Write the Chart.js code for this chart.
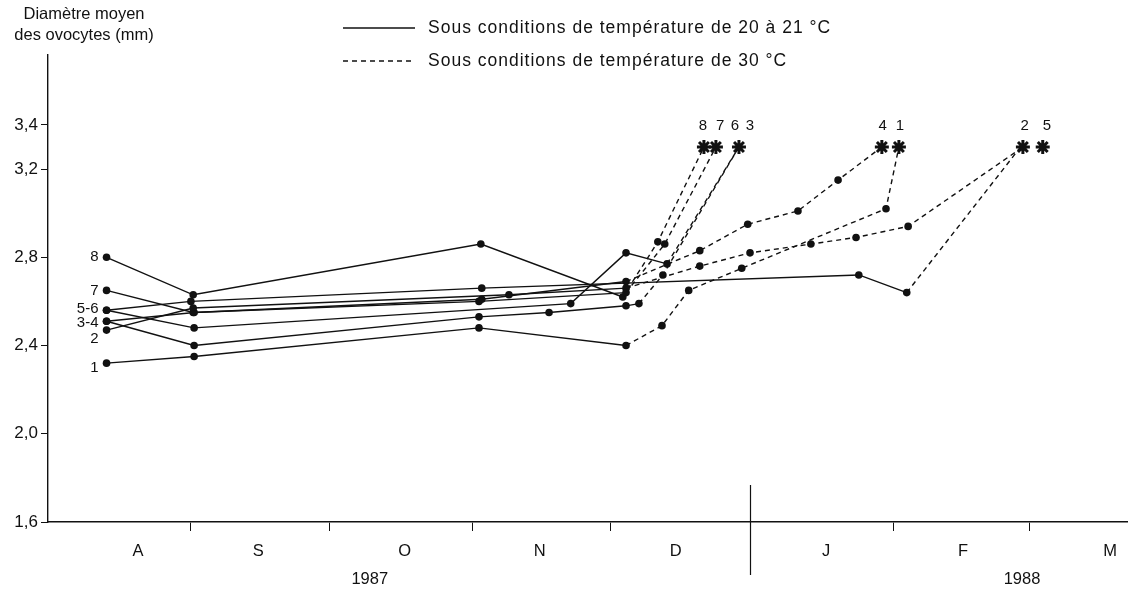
<!DOCTYPE html>
<html lang="fr">
<head>
<meta charset="utf-8">
<title>Diamètre moyen des ovocytes</title>
<script src="https://cdn.jsdelivr.net/npm/chart.js@4.4.1/dist/chart.umd.min.js"></script>
<style>
    html, body { margin: 0; padding: 0; background: #fff; }
    #wrap { width: 1128px; height: 591px; position: relative; }
</style>
</head>
<body>
<div id="wrap"><canvas id="chartOvocytes"></canvas></div>
<script>
// ── Données (jours depuis le 1er août 1987, diamètre en mm) ─────────
const jours1 = [12.7, 31.7, 93.5, 125.4, 133.2, 139.0, 150.5, 181.8, 184.6];
const diam1  = [2.32, 2.35, 2.48, 2.40, 2.49, 2.65, 2.75, 3.02, 3.30];
const jours2 = [12.7, 31.5, 100.0, 125.4, 141.4, 152.3, 165.5, 175.3, 186.6, 211.5];
const diam2  = [2.47, 2.57, 2.63, 2.66, 2.76, 2.82, 2.86, 2.89, 2.94, 3.30];
const jours3 = [12.7, 31.7, 93.5, 108.7, 125.4, 128.2, 133.4, 149.9];
const diam3  = [2.51, 2.40, 2.53, 2.55, 2.58, 2.59, 2.72, 3.30];
const jours4 = [12.7, 31.7, 94.1, 125.4, 141.4, 151.8, 162.7, 171.4, 180.9];
const diam4  = [2.51, 2.55, 2.61, 2.69, 2.83, 2.95, 3.01, 3.15, 3.30];
const jours5 = [12.7, 31.0, 94.1, 175.9, 186.3, 211.0];
const diam5  = [2.56, 2.60, 2.66, 2.72, 2.64, 3.30];
const jours6 = [12.7, 31.7, 113.4, 125.4, 134.3, 149.9];
const diam6  = [2.56, 2.48, 2.59, 2.82, 2.77, 3.30];
const jours7 = [12.7, 31.5, 93.5, 125.4, 133.8, 144.9];
const diam7  = [2.65, 2.55, 2.60, 2.64, 2.86, 3.30];
const jours8 = [12.7, 31.5, 93.9, 124.7, 132.3, 142.3];
const diam8  = [2.80, 2.63, 2.86, 2.62, 2.87, 3.30];

// index du dernier point à 20-21 °C (ensuite : 30 °C)
const transfert = [3, 3, 5, 3, 4, 4, 3, 3];

// ponte (astérisques)
const pontesJours = [142.3, 144.9, 149.9, 180.9, 184.6, 211.5, 215.8];
const pontesDiam  = [3.30, 3.30, 3.30, 3.30, 3.30, 3.30, 3.30];
const pontesNoms  = ['8', '7', '6', '3', '4', '1', '2', '5'];
const pontesNomsJours = [142.1, 145.8, 149.0, 152.3, 181.1, 184.8, 211.9, 216.7];

// repères à gauche
const reperesNoms = ['8', '7', '5-6', '3-4', '2', '1'];
const reperesDiam = [2.80, 2.65, 2.565, 2.505, 2.43, 2.30];

// axes
const yTicks = [1.6, 2.0, 2.4, 2.8, 3.2, 3.4];
const debutsMois = [31, 61, 92, 122, 183.5, 213];
const divisionAnnee = 152.4;
const mois = ['A', 'S', 'O', 'N', 'D', 'J', 'F', 'M'];
const moisJours = [19.5, 45.6, 77.4, 106.7, 136.2, 168.8, 198.5, 230.4];
const annees = ['1987', '1988'];
const anneesJours = [69.8, 211.3];

const series = [
    [jours1, diam1], [jours2, diam2], [jours3, diam3], [jours4, diam4],
    [jours5, diam5], [jours6, diam6], [jours7, diam7], [jours8, diam8]
];

const FONT = "'Liberation Sans', Arial, sans-serif";
const NOIR = '#111';

// ── Jeux de données ─────────────────────────────────────────────
const datasets = series.map(([jx, dy], i) => {
    const dernier = jx.length - 1;
    return {
        label: 'Série ' + (i + 1),
        data: jx.map((j, k) => ({ x: j, y: dy[k] })),
        borderColor: NOIR,
        backgroundColor: NOIR,
        borderWidth: 1.4,
        pointRadius: ctx => ctx.dataIndex === dernier ? 0 : 3.8,
        pointBorderWidth: 0,
        showLine: true,
        tension: 0,
        clip: false,
        segment: {
            borderDash: ctx => ctx.p0DataIndex >= transfert[i] ? [5, 4] : []
        }
    };
});

datasets.push({
    label: 'Ponte',
    data: pontesJours.map((j, k) => ({ x: j, y: pontesDiam[k] })),
    showLine: false,
    pointStyle: 'star',
    pointRadius: 7,
    borderColor: NOIR,
    borderWidth: 3,
    clip: false
});

// ── Textes et décor ─────────────────────────────────────────────
const textes = {
    id: 'textes',
    afterDraw(chart) {
        const { ctx, scales: { x, y }, chartArea } = chart;
        ctx.save();
        ctx.fillStyle = NOIR;
        ctx.strokeStyle = NOIR;
        ctx.textBaseline = 'middle';

        // titre de l'axe
        ctx.font = '16.5px ' + FONT;
        ctx.textAlign = 'center';
        ctx.fillText('Diamètre moyen', 84, 14);
        ctx.fillText('des ovocytes (mm)', 84, 35);

        // légende
        ctx.lineWidth = 1.4;
        ctx.beginPath(); ctx.moveTo(343, 28); ctx.lineTo(415, 28); ctx.stroke();
        ctx.setLineDash([5, 4]);
        ctx.beginPath(); ctx.moveTo(343, 61); ctx.lineTo(415, 61); ctx.stroke();
        ctx.setLineDash([]);
        ctx.textAlign = 'left';
        ctx.font = '17.5px ' + FONT;
        ctx.letterSpacing = '1px';
        ctx.fillText('Sous conditions de température de 20 à 21 °C', 428, 28);
        ctx.fillText('Sous conditions de température de 30 °C', 428, 61);
        ctx.letterSpacing = '0px';

        // repères des séries (à gauche)
        ctx.font = '15px ' + FONT;
        ctx.textAlign = 'right';
        reperesNoms.forEach((t, k) => {
            ctx.fillText(t, x.getPixelForValue(jours1[0]) - 8, y.getPixelForValue(reperesDiam[k]));
        });

        // numéros au-dessus des astérisques
        ctx.textAlign = 'center';
        pontesNoms.forEach((t, k) => {
            ctx.fillText(t, x.getPixelForValue(pontesNomsJours[k]), y.getPixelForValue(3.395));
        });

        // mois et années
        ctx.font = '16.5px ' + FONT;
        mois.forEach((m, k) => {
            ctx.fillText(m, x.getPixelForValue(moisJours[k]), chartArea.bottom + 29);
        });
        annees.forEach((a, k) => {
            ctx.fillText(a, x.getPixelForValue(anneesJours[k]), chartArea.bottom + 57);
        });

        // séparation 1987 / 1988
        const xd = Math.round(x.getPixelForValue(divisionAnnee)) + 0.5;
        ctx.lineWidth = 1.2;
        ctx.beginPath();
        ctx.moveTo(xd, chartArea.bottom - 37);
        ctx.lineTo(xd, chartArea.bottom + 53);
        ctx.stroke();
        ctx.restore();
    }
};

// ── Graphique ───────────────────────────────────────────────────
new Chart(document.getElementById('chartOvocytes'), {
    type: 'scatter',
    data: { datasets },
    options: {
        responsive: true,
        maintainAspectRatio: false,
        animation: false,
        layout: { autoPadding: false, padding: { top: 55, left: 0, right: 0, bottom: 0 } },
        plugins: { legend: { display: false }, tooltip: { enabled: false } },
        scales: {
            x: {
                type: 'linear',
                min: 0,
                max: 234.3,
                afterFit: s => { s.height = 69; },
                afterBuildTicks: s => { s.ticks = debutsMois.map(v => ({ value: v })); },
                ticks: { callback: () => '', font: { size: 1 } },
                grid: { drawOnChartArea: false, drawTicks: true, tickLength: 9, color: NOIR, lineWidth: 1 },
                border: { display: true, color: NOIR, width: 1.6 }
            },
            y: {
                min: 1.6,
                max: 3.717,
                afterFit: s => { s.width = 48; },
                afterBuildTicks: s => { s.ticks = yTicks.map(v => ({ value: v })); },
                ticks: {
                    color: NOIR,
                    padding: 3,
                    font: { family: FONT, size: 17 },
                    callback: v => v.toFixed(1).replace('.', ',')
                },
                grid: { drawOnChartArea: false, drawTicks: true, tickLength: 7, color: NOIR, lineWidth: 1 },
                border: { display: true, color: NOIR, width: 1.4 }
            }
        }
    },
    plugins: [textes]
});
</script>
</body>
</html>
